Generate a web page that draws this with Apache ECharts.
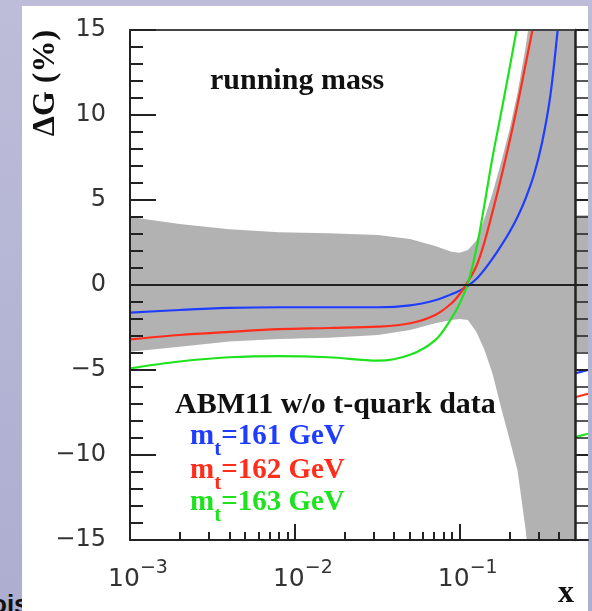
<!DOCTYPE html>
<html>
<head>
<meta charset="utf-8">
<script src="https://cdn.jsdelivr.net/npm/echarts@6/dist/echarts.min.js"></script>
<style>
  html, body { margin: 0; padding: 0; }
  body { width: 592px; height: 611px; overflow: hidden; position: relative;
         background: linear-gradient(180deg, #bdbdd9 0%, #b3b4d4 60%, #adaed0 100%); }
  #bgtext { position: absolute; left: -9px; top: 591px; font: bold 26px "Liberation Sans"; line-height: 26px; color: #111; z-index: 0; white-space: nowrap; }
  #paper { position: absolute; left: 22px; top: 6px; width: 566px; height: 605px; background: #fff; z-index: 1; }
  #chart { position: absolute; left: 0; top: 0; width: 592px; height: 611px; z-index: 2; }
</style>
</head>
<body>
<div id="bgtext">ois</div>
<div id="paper"></div>
<div id="chart"></div>
<script>
// ---- data ----
const xValues   = [0.001, 0.002, 0.004, 0.008, 0.016, 0.032, 0.05, 0.071, 0.089, 0.1, 0.112, 0.126, 0.141, 0.158, 0.178, 0.2, 0.224, 0.251, 0.282, 0.316, 0.355, 0.398, 0.447, 0.5];
const bandUpper = [4.0, 3.59, 3.28, 3.10, 3.04, 2.94, 2.71, 2.29, 1.96, 1.90, 2.06, 2.6, 3.9, 5.4, 7.2, 9.1, 11.3, 14.0, 17.5, 22, 27, 32, 38, 44];
const bandLower = [-3.92, -3.63, -3.33, -3.18, -3.1, -2.94, -2.65, -2.25, -2.06, -2.0, -2.06, -2.75, -3.8, -5.2, -7.2, -9.05, -10.9, -14.4, -19, -24, -30, -36, -42, -48];
const mt161     = [-1.63, -1.47, -1.35, -1.31, -1.31, -1.31, -1.2, -0.9, -0.55, -0.33, -0.05, 0.35, 0.9, 1.55, 2.3, 3.1, 4.0, 5.1, 6.5, 8.4, 11.2, 15.6, 21, 28];
const mt162     = [-3.2, -2.94, -2.76, -2.6, -2.53, -2.45, -2.25, -1.76, -1.08, -0.53, 0.2, 1.1, 2.5, 4.3, 6.3, 8.4, 10.6, 13.0, 15.5, 18.5, 22, 26, 31, 37];
const mt163     = [-4.9, -4.5, -4.25, -4.18, -4.25, -4.45, -4.1, -3.24, -1.96, -1.08, 0.1, 2.1, 4.7, 7.5, 10.1, 12.7, 15.3, 17.9, 20.6, 23.4, 26.3, 29.3, 32.4, 35.6];

// neighbouring panel (only its left edge is visible)
const stripX      = [0, 1];
const stripUpper  = [4.1, 4.1];
const stripLower  = [-3.94, -3.94];
const strip161    = [-5.2, -5.0];
const strip162    = [-6.6, -6.4];
const strip163    = [-8.95, -8.75];

// ticks
const decadeTicks = [0.001, 0.01, 0.1];
const minorTicks  = [0.002,0.003,0.004,0.005,0.006,0.007,0.008,0.009,0.02,0.03,0.04,0.05,0.06,0.07,0.08,0.09,0.2,0.3,0.4];
const yMin = -15, yMax = 15, yStep = 5;

const seriesNames = ['m_t=161 GeV', 'm_t=162 GeV', 'm_t=163 GeV'];
const BLUE = '#1f3dff', RED = '#ff2d1c', GREEN = '#1ee21e', GRAY = '#b2b2b2', INK = '#222';

const pairs = (xs, ys) => xs.map((x, i) => [x, ys[i]]);

// band drawn as one polygon through the axes' own coordinate mapping
function bandRenderer(xs, up, lo) {
  return function (params, api) {
    if (params.dataIndex !== 0) return null;
    const pts = [];
    for (let i = 0; i < xs.length; i++) pts.push(api.coord([xs[i], up[i]]));
    for (let i = xs.length - 1; i >= 0; i--) pts.push(api.coord([xs[i], lo[i]]));
    return { type: 'polygon', shape: { points: pts }, style: { fill: GRAY, stroke: null } };
  };
}

const chart = echarts.init(document.getElementById('chart'), null, { renderer: 'canvas' });

const logAxisBase = { type: 'log', logBase: 10, min: 0.001, max: 0.5, gridIndex: 0, splitLine: { show: false }, z: 10 };
const lineBase = { type: 'line', symbol: 'none', smooth: 0.35, z: 4 };

const option = {
  backgroundColor: 'transparent',
  animation: false,
  grid: [
    { left: 130, top: 30, width: 445, height: 510, show: false },
    { left: 575, top: 30, width: 13, height: 510, show: false }
  ],
  xAxis: [
    Object.assign({}, logAxisBase, {
      position: 'bottom',
      axisLine: { show: true, onZero: false, lineStyle: { color: INK, width: 2 } },
      axisTick: { show: true, inside: true, length: 16, customValues: decadeTicks, lineStyle: { color: INK, width: 2 } },
      axisLabel: {
        show: true, customValues: decadeTicks, margin: 19, padding: [0, 0, 0, 16],
        formatter: v => '{b|10}{e|\u2212' + Math.abs(Math.round(Math.log10(v))) + '}',
        rich: {
          b: { fontSize: 25, fontFamily: 'DejaVu Sans', color: '#333', lineHeight: 28, verticalAlign: 'top', padding: [8, 0, 0, 0] },
          e: { fontSize: 19, fontFamily: 'DejaVu Sans', color: '#333', lineHeight: 22, verticalAlign: 'top' }
        }
      }
    }),
    Object.assign({}, logAxisBase, {
      position: 'bottom',
      axisLine: { show: false, onZero: false },
      axisTick: { show: true, inside: true, length: 8, customValues: minorTicks, lineStyle: { color: INK, width: 2 } },
      axisLabel: { show: false }
    }),
    Object.assign({}, logAxisBase, {
      position: 'top',
      axisLine: { show: true, onZero: false, lineStyle: { color: '#444', width: 2 } },
      axisTick: { show: false }, axisLabel: { show: false }
    }),
    { type: 'value', gridIndex: 1, min: 0, max: 1, position: 'bottom', z: 10,
      axisLine: { show: true, onZero: false, lineStyle: { color: INK, width: 2 } }, axisTick: { show: false }, axisLabel: { show: false }, splitLine: { show: false } },
    { type: 'value', gridIndex: 1, min: 0, max: 1, position: 'top', z: 10,
      axisLine: { show: true, onZero: false, lineStyle: { color: '#444', width: 2 } }, axisTick: { show: false }, axisLabel: { show: false }, splitLine: { show: false } }
  ],
  yAxis: [
    { type: 'value', gridIndex: 0, min: yMin, max: yMax, interval: yStep, z: 10,
      axisLine: { show: true, onZero: false, lineStyle: { color: INK, width: 2 } },
      axisTick: { show: true, inside: true, length: 26, lineStyle: { color: INK, width: 2 } },
      minorTick: { show: true, splitNumber: 5, length: 13, lineStyle: { color: INK, width: 2 } },
      splitLine: { show: false },
      axisLabel: { margin: 24, fontSize: 24, fontFamily: 'DejaVu Sans', color: '#333',
        formatter: v => (v < 0 ? '\u2212' + Math.abs(v) : String(v)) }
    },
    { type: 'value', gridIndex: 1, min: yMin, max: yMax, interval: yStep, z: 10,
      axisLine: { show: true, onZero: false, lineStyle: { color: INK, width: 2.5 } },
      axisTick: { show: true, inside: true, length: 13, lineStyle: { color: INK, width: 2 } },
      minorTick: { show: true, splitNumber: 5, length: 13, lineStyle: { color: INK, width: 1.5 } },
      splitLine: { show: false }, axisLabel: { show: false }
    }
  ],
  series: [
    { type: 'custom', name: 'band', xAxisIndex: 0, yAxisIndex: 0, clip: true, silent: true, z: 2,
      data: pairs(xValues, bandUpper), renderItem: bandRenderer(xValues, bandUpper, bandLower) },
    { type: 'line', name: 'zero', xAxisIndex: 0, yAxisIndex: 0, data: [], silent: true, z: 3,
      markLine: { silent: true, symbol: 'none', label: { show: false },
        lineStyle: { color: INK, width: 2, type: 'solid' }, data: [{ yAxis: 0 }] } },
    Object.assign({}, lineBase, { name: seriesNames[0], xAxisIndex: 0, yAxisIndex: 0, data: pairs(xValues, mt161), lineStyle: { color: BLUE, width: 2.2 } }),
    Object.assign({}, lineBase, { name: seriesNames[1], xAxisIndex: 0, yAxisIndex: 0, data: pairs(xValues, mt162), lineStyle: { color: RED, width: 2.2 } }),
    Object.assign({}, lineBase, { name: seriesNames[2], xAxisIndex: 0, yAxisIndex: 0, data: pairs(xValues, mt163), lineStyle: { color: GREEN, width: 2.2 } }),
    // neighbouring panel strip
    { type: 'custom', xAxisIndex: 3, yAxisIndex: 1, clip: true, silent: true, z: 2,
      data: pairs(stripX, stripUpper), renderItem: bandRenderer(stripX, stripUpper, stripLower) },
    { type: 'line', xAxisIndex: 3, yAxisIndex: 1, data: pairs(stripX, strip161), symbol: 'none', lineStyle: { color: BLUE, width: 2.2 }, z: 4 },
    { type: 'line', xAxisIndex: 3, yAxisIndex: 1, data: pairs(stripX, strip162), symbol: 'none', lineStyle: { color: RED, width: 2.2 }, z: 4 },
    { type: 'line', xAxisIndex: 3, yAxisIndex: 1, data: pairs(stripX, strip163), symbol: 'none', lineStyle: { color: GREEN, width: 2.2 }, z: 4 }
  ],
  graphic: {
    elements: [
      { type: 'text', x: 46, y: 83, rotation: Math.PI / 2, z: 20,
        style: { text: '\u0394G (%)', font: 'bold 32px "Liberation Serif"', fill: '#111', align: 'center', verticalAlign: 'middle' } },
      { type: 'text', x: 210, y: 81, z: 20,
        style: { text: 'running mass', font: 'bold 30px "Liberation Serif"', fill: '#111', align: 'left', verticalAlign: 'middle' } },
      { type: 'text', x: 175, y: 405, z: 20,
        style: { text: 'ABM11 w/o t-quark data', font: 'bold 30px "Liberation Serif"', fill: '#111', align: 'left', verticalAlign: 'middle' } },
      { type: 'text', x: 566, y: 594, z: 20,
        style: { text: 'x', font: 'bold 32px "Liberation Serif"', fill: '#111', align: 'center', verticalAlign: 'middle' } }
    ].concat([[BLUE, '161', 422], [RED, '162', 456], [GREEN, '163', 488]].map(([c, m, y]) => ({
      type: 'text', x: 190, y: y, z: 20,
      style: {
        text: '{m|m}{t|t}{m|=' + m + ' GeV}', fill: c, align: 'left', verticalAlign: 'top',
        rich: {
          m: { fontSize: 29, fontFamily: 'Liberation Serif', fontWeight: 'bold', fill: c, lineHeight: 34, verticalAlign: 'top' },
          t: { fontSize: 21, fontFamily: 'Liberation Serif', fontWeight: 'bold', fill: c, lineHeight: 24, verticalAlign: 'top', padding: [17, 0, 0, 0] }
        }
      }
    })))
  }
};
chart.setOption(option);
</script>
</body>
</html>
